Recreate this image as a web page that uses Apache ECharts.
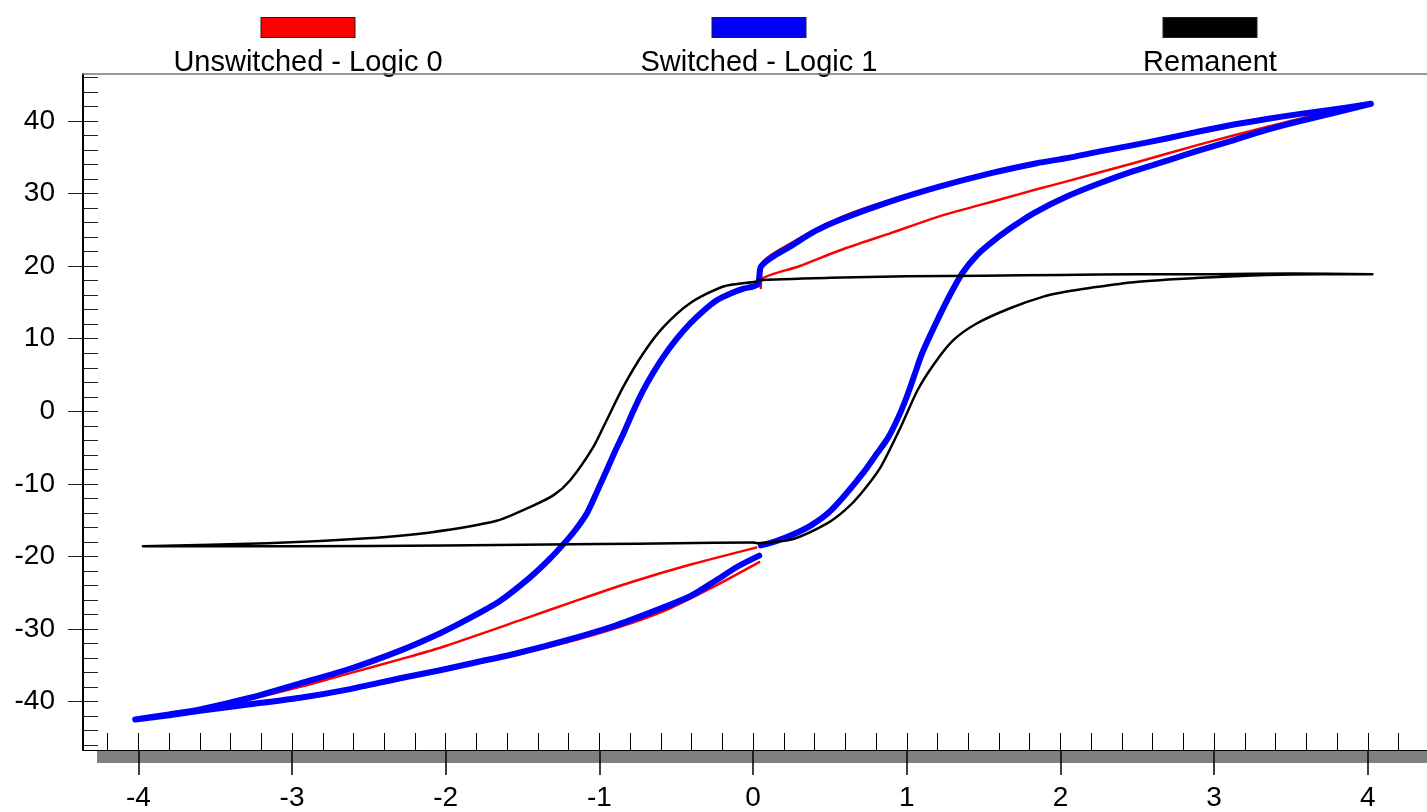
<!DOCTYPE html>
<html>
<head>
<meta charset="utf-8">
<script src="https://cdn.jsdelivr.net/npm/echarts@6/dist/echarts.min.js"></script>
<style>html,body{margin:0;padding:0;background:#fff;}#c{width:1427px;height:812px;}</style>
</head>
<body>
<div id="c"></div>
<script>
// ---------- data ----------
const seriesNames = ['Unswitched - Logic 0', 'Switched - Logic 1', 'Remanent'];

// Switched - Logic 1 (blue)
const blueSwitchRight = [[0.05,-18.5],[0.15,-17.9],[0.27,-16.9],[0.38,-15.7],[0.49,-14.0],[0.6,-11.5],[0.72,-8.4],[0.8,-6.0],[0.88,-3.6],[0.95,-0.6],[1.0,2.0],[1.05,5.0],[1.1,8.0],[1.2,12.6],[1.28,16.0],[1.36,19.0],[1.46,21.6],[1.57,23.6],[1.7,25.6],[1.824,27.3],[2.041,29.6],[2.25,31.4],[2.474,33.1],[2.7,34.6],[2.908,36.0],[3.13,37.4],[3.342,38.8],[3.56,40.0],[3.776,41.1],[4.02,42.4]];
const blueUpperRight = [[4.02,42.4],[3.776,41.6],[3.56,41.0],[3.342,40.3],[3.12,39.5],[2.908,38.6],[2.69,37.6],[2.474,36.7],[2.25,35.8],[2.041,34.9],[1.846,34.2],[1.542,32.8],[1.217,31.0],[0.891,28.9],[0.566,26.4],[0.4,24.8],[0.24,22.7],[0.12,21.2],[0.05,19.9]];
const blueSwitchLeft = [[0.03,17.5],[-0.063,16.9],[-0.15,16.2],[-0.236,15.3],[-0.32,13.9],[-0.41,12.1],[-0.5,9.9],[-0.584,7.5],[-0.65,5.3],[-0.714,2.9],[-0.78,0.0],[-0.844,-3.1],[-0.9,-5.6],[-0.952,-8.1],[-1.02,-11.3],[-1.082,-14.1],[-1.15,-16.2],[-1.212,-17.8],[-1.33,-20.5],[-1.451,-22.9],[-1.65,-26.2],[-1.85,-28.6],[-2.036,-30.6],[-2.297,-33.0],[-2.622,-35.5],[-2.947,-37.5],[-3.273,-39.5],[-3.598,-41.1],[-3.8,-41.8],[-4.02,-42.5]];
const blueLowerLeft = [[-4.02,-42.5],[-3.8,-41.9],[-3.598,-41.3],[-3.273,-40.4],[-2.947,-39.5],[-2.622,-38.3],[-2.297,-36.8],[-2.036,-35.7],[-1.8,-34.6],[-1.542,-33.4],[-1.217,-31.6],[-0.891,-29.5],[-0.566,-26.9],[-0.4,-25.4],[-0.24,-23.3],[-0.1,-21.4],[0.04,-19.9]];

// Unswitched - Logic 0 (red)
const redRiseRight = [[0.05,17.0],[0.06,18.3],[0.3,20.0],[0.566,22.2],[0.9,24.6],[1.217,26.9],[1.607,29.2],[1.846,30.6],[2.041,31.7],[2.474,34.2],[2.908,36.8],[3.342,39.2],[3.667,40.9],[4.02,42.4]];
const redUpperRight = [[4.02,42.4],[3.342,40.3],[2.474,36.7],[1.542,32.9],[0.891,29.1],[0.566,26.7],[0.24,23.1],[0.06,20.4],[0.05,17.0]];
const redFallLeft = [[0.02,-18.8],[-0.4,-21.1],[-0.8,-23.6],[-1.15,-26.1],[-1.5,-28.7],[-2.036,-32.6],[-2.297,-34.2],[-2.622,-36.1],[-2.947,-38.0],[-3.273,-39.7],[-3.598,-41.1],[-4.02,-42.5]];
const redLowerLeft = [[-4.02,-42.5],[-3.273,-40.5],[-2.622,-38.4],[-2.036,-35.8],[-1.542,-33.6],[-1.217,-31.9],[-0.891,-29.9],[-0.566,-27.4],[-0.24,-24.0],[0.04,-20.8]];

// Remanent (black)
const remRight = [[0.03,-18.2],[0.262,-17.6],[0.479,-15.5],[0.6,-13.6],[0.7,-11.4],[0.83,-7.7],[0.96,-2.2],[1.07,2.9],[1.18,6.6],[1.303,9.8],[1.455,12.1],[1.672,14.2],[1.889,15.8],[2.041,16.5],[2.19,17.0],[2.474,17.8],[2.908,18.4],[3.342,18.8],[3.7,18.9],[4.03,18.9]];
const remTop = [[4.03,18.9],[3.5,19.0],[3.0,18.9],[2.5,18.9],[2.0,18.8],[1.5,18.7],[1.0,18.6],[0.5,18.4],[0.03,18.1]];
const remLeft = [[0.024,17.9],[-0.193,17.2],[-0.41,14.9],[-0.584,11.6],[-0.714,8.0],[-0.844,3.4],[-0.952,-1.2],[-1.039,-4.9],[-1.19,-9.5],[-1.3,-11.6],[-1.451,-13.2],[-1.668,-15.1],[-2.1,-16.7],[-2.51,-17.5],[-3.16,-18.2],[-3.97,-18.6]];
const remBottom = [[-3.97,-18.6],[-3.0,-18.6],[-2.0,-18.5],[-1.0,-18.3],[-0.5,-18.2],[0.0,-18.1],[0.03,-18.2]];

// axes / ticks
const X_MIN = -4.36, X_MAX = 4.385;
const Y_MIN = -46.7, Y_MAX = 46.5;
const xMajorTicks = [-4,-3,-2,-1,0,1,2,3,4];
const xMinorSteps = [-21,-20,-19,-18,-17,-16,-15,-14,-13,-12,-11,-10,-9,-8,-7,-6,-5,-4,-3,-2,-1,0,1,2,3,4,5,6,7,8,9,10,11,12,13,14,15,16,17,18,19,20,21];
const yMajorTicks = [-40,-30,-20,-10,0,10,20,30,40];
const yMinorTicks = [-46,-44,-42,-40,-38,-36,-34,-32,-30,-28,-26,-24,-22,-20,-18,-16,-14,-12,-10,-8,-6,-4,-2,0,2,4,6,8,10,12,14,16,18,20,22,24,26,28,30,32,34,36,38,40,42,44,46];

// ---------- chart ----------
const FONT = '"Liberation Sans", Arial, sans-serif';
const xMinorTicks = xMinorSteps.map(v => v / 5);
const colors = { 'Unswitched - Logic 0': '#ff0000', 'Switched - Logic 1': '#0000ff', 'Remanent': '#000000' };
const richKey = { 'Unswitched - Logic 0': 'r', 'Switched - Logic 1': 'b', 'Remanent': 'k' };

function boxStyle(c) {
  return { backgroundColor: c, width: 93, height: 19, lineHeight: 19, borderColor: '#222', borderWidth: 1, align: 'center' };
}

function lineSeries(name, data, width, z) {
  return {
    type: 'line', name: name, data: data, xAxisIndex: 0, yAxisIndex: 0,
    symbol: 'none', showSymbol: false, smooth: 0.25, z: z,
    color: colors[name],
    lineStyle: { color: colors[name], width: width, cap: 'round', join: 'round' },
    emphasis: { disabled: true }
  };
}

const chart = echarts.init(document.getElementById('c'), null, { renderer: 'canvas' });
chart.setOption({
  animation: false,
  backgroundColor: '#ffffff',
  grid: { left: 83, right: 0, top: 74, bottom: 62, containLabel: false },
  legend: {
    top: 13, left: 92, padding: 0, itemGap: 25, itemWidth: 0, itemHeight: 0,
    selectedMode: false,
    data: seriesNames,
    formatter: function (name) { return '{' + richKey[name] + '|}\n{t|' + name + '}'; },
    textStyle: {
      fontFamily: FONT, fontSize: 29, color: '#000',
      rich: {
        r: boxStyle('#ff0000'), b: boxStyle('#0000ff'), k: boxStyle('#000000'),
        t: { width: 420, align: 'center', fontSize: 29, lineHeight: 52, fontFamily: FONT, color: '#000' }
      }
    }
  },
  xAxis: [
    {
      type: 'value', min: X_MIN, max: X_MAX, position: 'bottom', z: 5,
      axisLine: { show: true, onZero: false, lineStyle: { color: '#000', width: 1 } },
      axisTick: { show: true, inside: true, length: 17, customValues: xMinorTicks, lineStyle: { color: '#000', width: 1 } },
      axisLabel: { show: false }, splitLine: { show: false }
    },
    {
      type: 'value', min: X_MIN, max: X_MAX, position: 'bottom', z: 5,
      axisLine: { show: false, onZero: false },
      axisTick: { show: true, inside: false, length: 25, customValues: xMajorTicks, lineStyle: { color: '#000', width: 1.5 } },
      axisLabel: { show: true, customValues: xMajorTicks, margin: 34, fontSize: 28, fontFamily: FONT, color: '#000' },
      splitLine: { show: false }
    },
    {
      type: 'value', min: X_MIN, max: X_MAX, position: 'top', z: 5,
      axisLine: { show: true, onZero: false, lineStyle: { color: '#777', width: 1.5 } },
      axisTick: { show: false }, axisLabel: { show: false }, splitLine: { show: false }
    }
  ],
  yAxis: [
    {
      type: 'value', min: Y_MIN, max: Y_MAX, position: 'left', z: 5,
      axisLine: { show: true, onZero: false, lineStyle: { color: '#000', width: 2 } },
      axisTick: { show: true, inside: true, length: 15, customValues: yMinorTicks, lineStyle: { color: '#222', width: 1 } },
      axisLabel: { show: false }, splitLine: { show: false }
    },
    {
      type: 'value', min: Y_MIN, max: Y_MAX, position: 'left', z: 5,
      axisLine: { show: false, onZero: false },
      axisTick: { show: true, inside: false, length: 15, customValues: yMajorTicks, lineStyle: { color: '#222', width: 1 } },
      axisLabel: { show: true, customValues: yMajorTicks, margin: 28, fontSize: 28, fontFamily: FONT, color: '#000' },
      splitLine: { show: false }
    }
  ],
  graphic: [
    { type: 'rect', z: 1, silent: true, shape: { x: 97, y: 750, width: 1330, height: 13 }, style: { fill: '#808080' } }
  ],
  series: [
    lineSeries('Unswitched - Logic 0', redRiseRight.concat(redUpperRight), 2.5, 2),
    lineSeries('Unswitched - Logic 0', redFallLeft.concat(redLowerLeft), 2.5, 2),
    lineSeries('Switched - Logic 1', blueSwitchRight.concat(blueUpperRight, blueSwitchLeft, blueLowerLeft), 6, 3),
    lineSeries('Remanent', remRight.concat(remTop, remLeft, remBottom), 2.5, 4)
  ]
});
</script>
</body>
</html>
